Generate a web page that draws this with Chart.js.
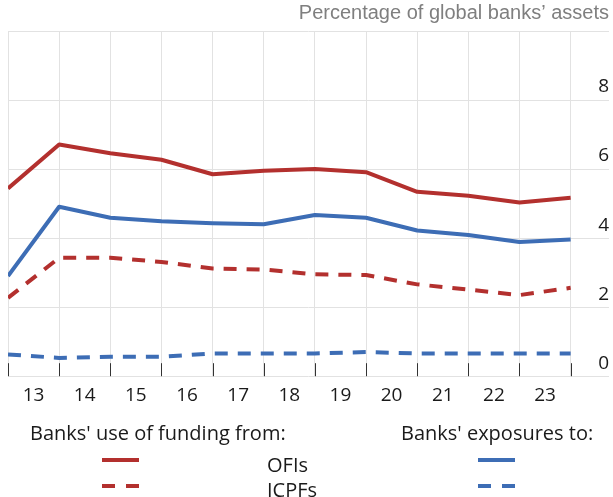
<!DOCTYPE html>
<html>
<head>
<meta charset="utf-8">
<script src="https://cdn.jsdelivr.net/npm/chart.js@4.4.1/dist/chart.umd.min.js"></script>
<style>
    body { margin: 0; background: #fff; }
    #wrap { position: relative; width: 613px; height: 497px; }
    #legend span {
        position: absolute;
        font: 20px 'Open Sans', sans-serif;
        line-height: 20px;
        color: #1a1a1a;
        white-space: nowrap;
    }
    #legend svg { position: absolute; left: 0; top: 0; }
</style>
</head>
<body>
<div id="wrap">
    <canvas id="myChart" width="613" height="497"></canvas>
    <div id="legend">
        <span style="left:30px; top:423px;">Banks' use of funding from:</span>
        <span style="left:401px; top:423px;">Banks' exposures to:</span>
        <span style="left:267px; top:455px;">OFIs</span>
        <span style="left:267px; top:480px;">ICPFs</span>
        <svg width="613" height="497">
            <line x1="102" y1="460" x2="139" y2="460" stroke="#b3302e" stroke-width="4"/>
            <line x1="102" y1="486" x2="139" y2="486" stroke="#b3302e" stroke-width="4" stroke-dasharray="13 11"/>
            <line x1="478" y1="460" x2="515" y2="460" stroke="#3d6db5" stroke-width="4"/>
            <line x1="478" y1="486" x2="515" y2="486" stroke="#3d6db5" stroke-width="4" stroke-dasharray="13 11"/>
        </svg>
    </div>
</div>
<script>
// year-end observations, end-2012 .. end-2023
const periods = ['2012', '2013', '2014', '2015', '2016', '2017', '2018', '2019', '2020', '2021', '2022', '2023'];
// labels sit in the middle of each year
const yearLabels = ['13', '14', '15', '16', '17', '18', '19', '20', '21', '22', '23'];

// percentage of global banks' assets
const fundingOFIs = [5.44, 6.71, 6.46, 6.27, 5.85, 5.95, 6.0, 5.91, 5.34, 5.23, 5.03, 5.17];
const fundingICPFs = [2.27, 3.43, 3.43, 3.31, 3.12, 3.09, 2.95, 2.93, 2.66, 2.51, 2.35, 2.56];
const exposureOFIs = [2.9, 4.91, 4.59, 4.49, 4.43, 4.40, 4.67, 4.59, 4.22, 4.09, 3.89, 3.96];
const exposureICPFs = [0.63, 0.53, 0.56, 0.56, 0.66, 0.66, 0.66, 0.7, 0.66, 0.66, 0.66, 0.66];

const yTicks = [0, 2, 4, 6, 8];

const red = '#b3302e';
const blue = '#3d6db5';

// points on index positions of the periods
const toPoints = (arr) => arr.map((v, i) => ({ x: i, y: v }));

// little tick marks standing up from the zero line at each year end
const yearTicks = {
    id: 'yearTicks',
    afterDatasetsDraw(chart) {
        const ctx = chart.ctx;
        const xs = chart.scales.x;
        const bottom = chart.chartArea.bottom;
        ctx.save();
        ctx.strokeStyle = '#333';
        ctx.lineWidth = 1;
        periods.forEach((p, i) => {
            const x = Math.round(xs.getPixelForValue(i)) + 0.5;
            ctx.beginPath();
            ctx.moveTo(x, bottom);
            ctx.lineTo(x, bottom - 13);
            ctx.stroke();
        });
        ctx.restore();
    }
};

const lineSet = (label, data, color, dashed) => ({
    label: label,
    data: toPoints(data),
    borderColor: color,
    backgroundColor: color,
    borderWidth: 4,
    borderDash: dashed ? [13, 10] : [],
    borderJoinStyle: 'round',
    pointRadius: 0,
    tension: 0,
    fill: false
});

window.onload = function () {
    const chart = new Chart('myChart', {
        type: 'line',
        data: {
            datasets: [
                lineSet('Funding from OFIs', fundingOFIs, red, false),
                lineSet('Funding from ICPFs', fundingICPFs, red, true),
                lineSet('Exposures to OFIs', exposureOFIs, blue, false),
                lineSet('Exposures to ICPFs', exposureICPFs, blue, true)
            ]
        },
        options: {
            responsive: false,
            animation: false,
            layout: {
                padding: { left: 8, right: 4, top: 0, bottom: 82 }
            },
            plugins: {
                legend: { display: false },
                tooltip: { enabled: false },
                title: {
                    display: true,
                    text: 'Percentage of global banks\u2019 assets',
                    align: 'end',
                    color: '#7f7f7f',
                    font: { family: "'Liberation Sans', Arial, sans-serif", size: 20, weight: 'normal', lineHeight: 1.2 },
                    padding: { top: 1, bottom: 6 }
                }
            },
            scales: {
                x: {
                    type: 'linear',
                    min: 0,
                    max: 11.75,
                    afterBuildTicks: (scale) => {
                        const t = [];
                        periods.forEach((p, i) => {
                            t.push({ value: i });
                            if (i < yearLabels.length) t.push({ value: i + 0.5 });
                        });
                        scale.ticks = t;
                    },
                    grid: {
                        color: (c) => (c.tick && c.tick.value % 1 === 0) ? '#e2e2e2' : 'rgba(0,0,0,0)',
                        drawTicks: false
                    },
                    border: { display: false },
                    ticks: {
                        autoSkip: false,
                        maxRotation: 0,
                        padding: 8,
                        color: '#1a1a1a',
                        font: { family: "'Open Sans', sans-serif", size: 19 },
                        callback: (v) => (v % 1 === 0.5) ? yearLabels[Math.floor(v)] : ''
                    }
                },
                y: {
                    position: 'right',
                    min: 0,
                    max: 10,
                    afterBuildTicks: (scale) => {
                        scale.ticks = [0, 2, 4, 6, 8, 10].map(v => ({ value: v }));
                    },
                    grid: {
                        color: '#e2e2e2',
                        drawTicks: false
                    },
                    border: { display: false },
                    ticks: {
                        mirror: true,
                        padding: 0,
                        labelOffset: -13,
                        color: '#1a1a1a',
                        font: { family: "'Open Sans', sans-serif", size: 19 },
                        callback: (v) => yTicks.includes(v) ? String(v) : ''
                    }
                }
            }
        },
        plugins: [yearTicks]
    });
};
</script>
</body>
</html>
